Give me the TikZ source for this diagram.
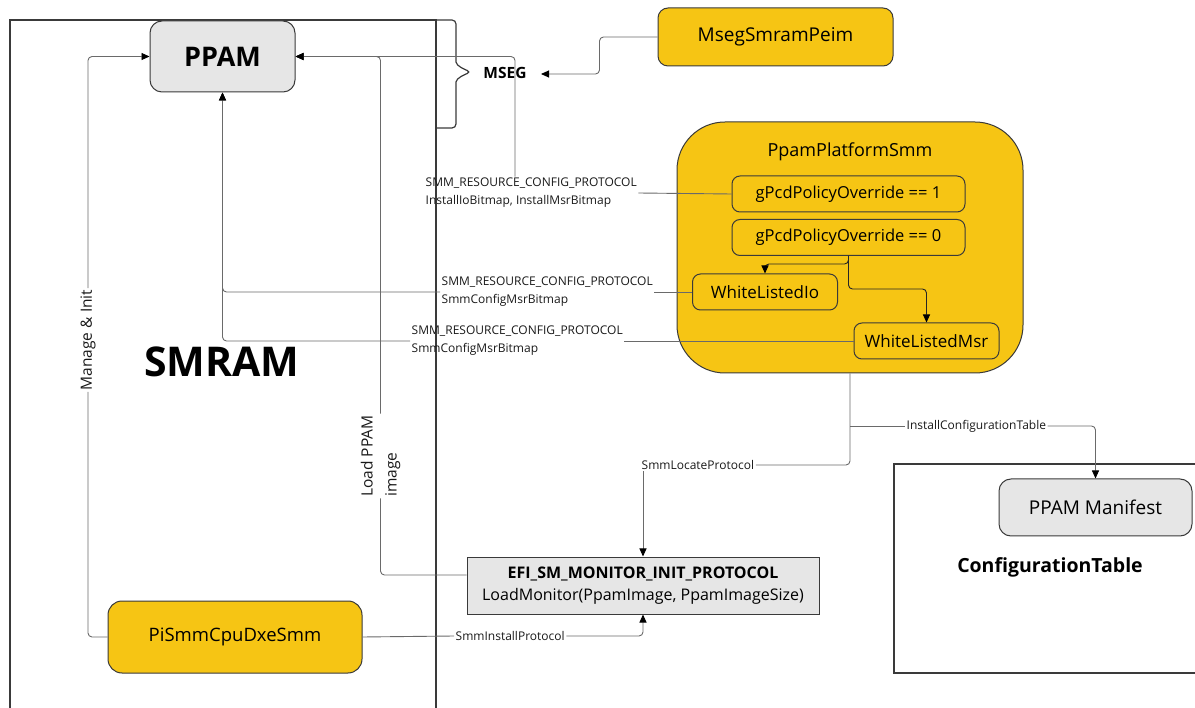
\documentclass[tikz,border=0pt]{standalone}
\usepackage{fontspec}
\setmainfont{Open Sans}
\usetikzlibrary{arrows.meta}
\definecolor{ylw}{HTML}{F6C514}
\definecolor{lgray}{HTML}{E6E6E6}
\definecolor{edgec}{HTML}{3A3A3A}
\definecolor{wire}{HTML}{6A6A6A}
\newcommand{\myfs}[2]{\fontsize{#1}{#2}\selectfont}
\begin{document}
\begin{tikzpicture}[x=1pt,y=-1pt,
  box/.style={draw=edgec, line width=1pt, rounded corners=8pt, inner sep=0pt, align=center, text=black},
  ybox/.style={box, fill=ylw},
  gbox/.style={box, fill=lgray},
  frame/.style={draw=edgec, line width=1.2pt},
  conn/.style={draw=wire, line width=0.9pt, rounded corners=4pt},
  arr/.style={conn, -{Triangle[length=8pt,width=7pt,color=black]}},
  darr/.style={arr, draw=black!85},
  lab/.style={font=\myfs{12}{18}, inner sep=1.5pt, align=left, text=black!90}
]
\useasboundingbox (0,0) rectangle (1195,708);

% frames
\draw[frame] (10,708) -- (10,20) -- (436,20) -- (436,708);
\draw[frame, rounded corners=4pt] (436,20) -- (456,20) -- (456,58)
   .. controls (456,66) and (466,70) .. (471,72)
   .. controls (466,74) and (456,78) .. (456,86) -- (456,128) -- (436,128);
\draw[frame] (1195,464) -- (894,464) -- (894,673) -- (1195,673);

% nodes
\node[gbox, rounded corners=12pt, minimum width=145pt, minimum height=71pt, font=\bfseries\myfs{27}{30}] (ppam) at (222.5,56.5) {PPAM};
\node[font=\bfseries\myfs{41}{44}] (smram) at (222,362) {SMRAM};
\node[font=\bfseries\myfs{15.5}{18}, inner sep=0pt] (mseg) at (505,73) {MSEG};
\coordinate (msegin) at (541,74);
\node[ybox, rounded corners=10pt, minimum width=235pt, minimum height=58pt, font=\myfs{19}{22}] (peim) at (775.5,37) {MsegSmramPeim};
\node[ybox, rounded corners=48pt, minimum width=346pt, minimum height=251pt] (ppsmm) at (850,247.5) {};
\node[font=\myfs{18}{22}] (ppsmmt) at (850,152) {PpamPlatformSmm};
\node[ybox, minimum width=233pt, minimum height=36pt, font=\myfs{16.5}{20}] (g1) at (848.5,194) {gPcdPolicyOverride == 1};
\node[ybox, minimum width=233pt, minimum height=36pt, font=\myfs{16.5}{20}] (g0) at (848.5,237.5) {gPcdPolicyOverride == 0};
\node[ybox, minimum width=145pt, minimum height=36pt, font=\myfs{17}{20}] (wio) at (765,292) {WhiteListedIo};
\node[ybox, minimum width=145pt, minimum height=36pt, font=\myfs{17}{20}] (wmsr) at (926.5,341) {WhiteListedMsr};
\node[gbox, rounded corners=0pt, minimum width=352pt, minimum height=57pt, font=\myfs{16}{22}] (efi) at (643,585.5) {\textbf{EFI\_SM\_MONITOR\_INIT\_PROTOCOL}\\LoadMonitor(PpamImage, PpamImageSize)};
\node[ybox, rounded corners=14pt, minimum width=254pt, minimum height=72pt, font=\myfs{18.5}{22}] (pismm) at (235,637) {PiSmmCpuDxeSmm};
\node[gbox, rounded corners=12pt, minimum width=193pt, minimum height=57pt, font=\myfs{19}{22}] (manifest) at (1095.5,507.5) {PPAM Manifest};
\node[font=\bfseries\myfs{19.5}{22}] (cfgt) at (1050,567) {ConfigurationTable};

% labels
\node[lab, anchor=west] (lab1) at (424,193) {SMM\_RESOURCE\_CONFIG\_PROTOCOL\\InstallIoBitmap, InstallMsrBitmap};
\node[lab, anchor=west] (lab2) at (440,292) {SMM\_RESOURCE\_CONFIG\_PROTOCOL\\SmmConfigMsrBitmap};
\node[lab, anchor=west] (lab3) at (410,341) {SMM\_RESOURCE\_CONFIG\_PROTOCOL\\SmmConfigMsrBitmap};
\node[lab, anchor=west] (loclab) at (640,465) {SmmLocateProtocol};
\node[lab, anchor=west] (icfg) at (905,426) {InstallConfigurationTable};
\node[lab, anchor=west] (sip) at (454,636) {SmmInstallProtocol};
\node[lab, rotate=90, font=\myfs{15.5}{24}] (mlab) at (88,340) {Manage \& Init};
\node[lab, rotate=90, font=\myfs{15.5}{24}] (loadlab) at (380.5,456) {Load PPAM\\image};

\coordinate (v1) at (515,0);
\coordinate (br1) at (848.5,264);
\coordinate (br2) at (848.5,289);

% connectors
\draw[arr] (peim.west) -- ++(-58,0) |- (msegin);
\draw[conn] (g1.west) -- (lab1.east);
\draw[arr] (lab1.north -| v1) |- (ppam.east);
\draw[conn] ([yshift=10.5pt]efi.west) -| (loadlab.west);
\draw[arr] (loadlab.east) |- (ppam.east);
\draw[conn] (pismm.west) -| (mlab.west);
\draw[arr] (mlab.east) |- (ppam.west);
\draw[conn] (wio.west) -- (lab2.east);
\draw[arr] (lab2.west) -| (ppam.south);
\draw[conn] (wmsr.west) -- (lab3.east);
\draw[arr] (lab3.west) -| (ppam.south);
\draw[conn] (ppsmm.south) |- (loclab.east);
\draw[arr] (efi.north |- loclab.south) -- (efi.north);
\draw[conn] (ppsmm.south |- icfg.west) -- (icfg.west);
\draw[arr] (icfg.east) -| (manifest.north);
\draw[conn] (pismm.east) -- (sip.west);
\draw[arr] (sip.east) -| (efi.south);
\draw[darr] (g0.south) -- (br1) -| (wio.north);
\draw[darr] (g0.south) -- (br2) -| (wmsr.north);
\end{tikzpicture}
\end{document}
